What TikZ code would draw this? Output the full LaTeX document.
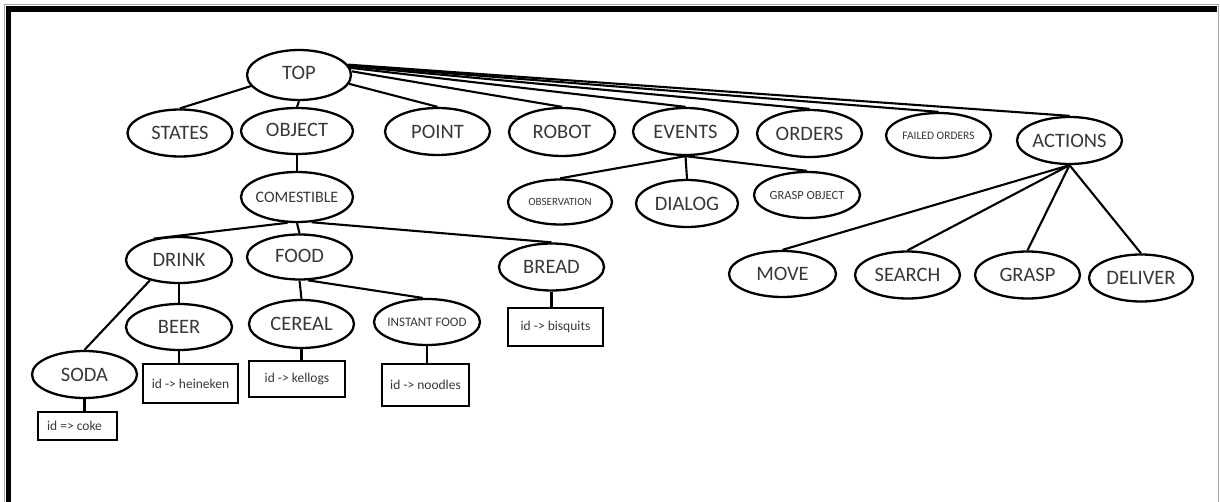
\documentclass[tikz,border=0pt]{standalone}
\usepackage{fontspec}
\setmainfont{Carlito}
\usetikzlibrary{shapes.geometric}
\definecolor{labelgrey}{HTML}{383838}
\newcommand{\tag}[1]{\makebox[0pt]{#1}}
\tikzset{
  oval/.style={ellipse, draw=black, line width=2.3pt, inner sep=0pt,
    minimum width=105pt, minimum height=47pt, text=labelgrey,
    font=\fontsize{20.5}{20.5}\selectfont},
  smalloval/.style={oval, font=\fontsize{11.5}{11.5}\selectfont},
  idbox/.style={rectangle, draw=black, line width=2.4pt, inner sep=0pt,
    text=labelgrey, font=\fontsize{13.5}{13.5}\selectfont},
  link/.style={draw=black, line width=2.1pt},
}
\begin{document}
\begin{tikzpicture}[x=1pt,y=-1pt]
\useasboundingbox (0,0) rectangle (1220,502);
\fill[white] (0,0) rectangle (1220,502);
% frame
\draw[gray!70, line width=1pt] (4.5,502) -- (4.5,5) -- (1218.5,5) -- (1218.5,502);
\fill[black] (5.5,6.5) rectangle (11,502);
\fill[black] (5.5,6.5) rectangle (1217,12);

% first level
\node[oval, minimum width=104pt, minimum height=50pt] (top) at (299,75) {\tag{\raisebox{4pt}{TOP}}};
\node[oval] (states) at (180,133) {\tag{STATES}};
\node[oval, minimum width=112pt, minimum height=46pt] (object) at (297,131) {\tag{\raisebox{3pt}{OBJECT}}};
\node[oval] (point) at (437.5,131.5) {\tag{POINT}};
\node[oval, minimum width=106pt, minimum height=48pt] (robot) at (562,132) {\tag{ROBOT}};
\node[oval] (events) at (685.5,131.5) {\tag{EVENTS}};
\node[oval] (orders) at (809.5,133.5) {\tag{ORDERS}};
\node[smalloval, minimum height=45pt] (failed) at (938.5,135.5) {\tag{FAILED ORDERS}};
\node[oval] (actions) at (1069.5,140.5) {\tag{ACTIONS}};

% object branch
\node[oval, minimum width=112pt, minimum height=50pt, font=\fontsize{16}{16}\selectfont] (comestible) at (297,197) {\tag{COMESTIBLE}};
\node[oval, minimum width=106pt, minimum height=46pt] (drink) at (179,260) {\tag{DRINK}};
\node[oval, minimum height=45pt] (food) at (299.5,257) {\tag{\raisebox{2pt}{FOOD}}};
\node[oval] (bread) at (551.5,267) {\tag{BREAD}};
\node[oval, minimum width=106pt, minimum height=46pt] (beer) at (179,327) {\tag{BEER}};
\node[oval] (soda) at (84.5,374.5) {\tag{SODA}};
\node[oval, minimum height=48pt] (cereal) at (301.5,324) {\tag{CEREAL}};
\node[smalloval, minimum width=106pt, minimum height=46pt, font=\fontsize{13}{13}\selectfont] (instant) at (427,322) {\tag{INSTANT FOOD}};

% id boxes
\node[idbox, minimum width=79pt, minimum height=28pt] (coke) at (77.5,426) {\tag{\hspace{-6pt}id => coke}};
\node[idbox, minimum width=95pt, minimum height=39pt] (heineken) at (190.5,383.5) {\tag{id -> heineken}};
\node[idbox, minimum width=96pt, minimum height=36pt] (kellogs) at (297,379) {\tag{id -> kellogs}};
\node[idbox, minimum width=87pt, minimum height=42pt] (noodles) at (425.5,385) {\tag{id -> noodles}};
\node[idbox, minimum width=95pt, minimum height=38pt] (bisquits) at (555.5,327) {\tag{id -> bisquits}};

% events branch
\node[smalloval, minimum width=104pt, minimum height=45pt, font=\fontsize{11}{11}\selectfont] (observation) at (560,202) {\tag{OBSERVATION}};
\node[oval, minimum width=102pt] (dialog) at (687,203.5) {\tag{DIALOG}};
\node[smalloval, minimum width=106pt, minimum height=46pt, font=\fontsize{12.5}{12.5}\selectfont] (graspobj) at (807,195) {\tag{GRASP OBJECT}};

% actions branch
\node[oval, minimum width=107pt, minimum height=46pt] (move) at (782.5,274) {\tag{MOVE}};
\node[oval] (search) at (907.5,275) {\tag{SEARCH}};
\node[oval] (grasp) at (1027.5,275) {\tag{GRASP}};
\node[oval, minimum width=104pt] (deliver) at (1141,278) {\tag{DELIVER}};

% connectors from TOP
\draw[link] (top.193) -- (states.north);
\draw[link] (top.south) -- (object.north);
\draw[link] (top.350) -- (point.north);
\draw[link] (top.4) -- (robot.north);
\draw[link] (top.8) -- (events.north);
\draw[link] (top.10) -- (orders.north);
\draw[link] (top.11) -- (failed.north);
\draw[link] (top.12) -- (actions.north);

% object subtree
\draw[link] (object.south) -- (comestible.north);
\draw[link] (comestible.250) -- (drink.140);
\draw[link] (comestible.south) -- (food.north);
\draw[link] (comestible.300) -- (bread.north);
\draw[link] (drink.215) -- (soda.north);
\draw[link] (drink.south) -- (beer.north);
\draw[link] (beer.south) -- (heineken.north -| beer.south);
\draw[link] (soda.south) -- (coke.north -| soda.south);
\draw[link] (food.south) -- (cereal.north);
\draw[link] (cereal.south) -- (kellogs.north -| cereal.south);
\draw[link] (food.290) -- (instant.100);
\draw[link] (instant.south) -- (noodles.north -| instant.south);
\draw[link] (bread.south) -- (bisquits.north -| bread.south);

% events subtree
\draw[link] (events.south) -- (observation.north);
\draw[link] (events.south) -- (dialog.north);
\draw[link] (events.south) -- (graspobj.north);

% actions subtree
\draw[link] (actions.south) -- (move.north);
\draw[link] (actions.south) -- (search.north);
\draw[link] (actions.south) -- (grasp.north);
\draw[link] (actions.south) -- (deliver.north);
\end{tikzpicture}
\end{document}
